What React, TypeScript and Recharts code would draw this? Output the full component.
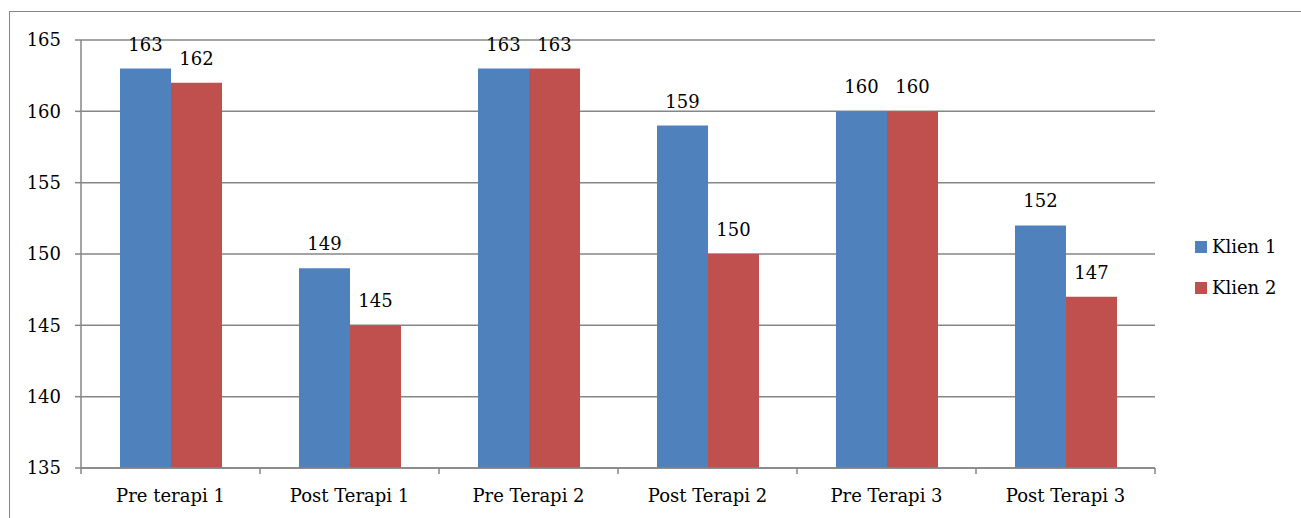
import { Bar, BarChart, CartesianGrid, LabelList, Legend, XAxis, YAxis } from "recharts";

const categories = ["Pre terapi 1", "Post Terapi 1", "Pre Terapi 2", "Post Terapi 2", "Pre Terapi 3", "Post Terapi 3"];
const klien1 = [163, 149, 163, 159, 160, 152];
const klien2 = [162, 145, 163, 150, 160, 147];
const yTicks = [135, 140, 145, 150, 155, 160, 165];

const data = categories.map((name, i) => ({ name, k1: klien1[i], k2: klien2[i] }));

const FONT = "'DejaVu Serif', serif";
const GRID = "#868686";

function CategoryTick(props: any) {
  const { x, y, payload, index, visibleTicksCount, width } = props;
  const half = payload?.offset ?? (width ? width / 12 : 89.5);
  const last = index === (visibleTicksCount ?? categories.length) - 1;
  return (
    <g>
      <line x1={x - half} x2={x - half} y1={y} y2={y + 6} stroke={GRID} strokeWidth={1.5} />
      {last && <line x1={x + half} x2={x + half} y1={y} y2={y + 6} stroke={GRID} strokeWidth={1.5} />}
      <text x={x} y={y + 34} textAnchor="middle" fontFamily={FONT} fontSize={18} fill="#000">
        {payload.value}
      </text>
    </g>
  );
}

function LegendBox({ payload }: any) {
  return (
    <div style={{ fontFamily: FONT, fontSize: 18, color: "#000" }}>
      {(payload || []).map((p: any) => (
        <div key={p.value} style={{ height: 41, display: "flex", alignItems: "center" }}>
          <span style={{ width: 12, height: 12, background: p.color, display: "inline-block" }} />
          <span style={{ marginLeft: 5 }}>{p.value}</span>
        </div>
      ))}
    </div>
  );
}

export default function App() {
  return (
    <div style={{ position: "absolute", left: 0, top: 0, width: 1301, height: 518, overflow: "hidden", background: "#fff" }}>
      <div style={{ position: "absolute", left: 9, top: 11, width: 1400, height: 600, border: `1px solid ${GRID}` }} />
      <div style={{ position: "absolute", left: 0, top: 0 }}>
        <BarChart width={1301} height={518} data={data} margin={{ top: 40, right: 146, left: 0, bottom: 0 }} barGap={0}>
          <CartesianGrid vertical={false} stroke={GRID} strokeWidth={1.5} />
          <XAxis
            dataKey="name"
            height={50}
            tickSize={0}
            tickMargin={0}
            tickLine={false}
            axisLine={{ stroke: GRID, strokeWidth: 1.5 }}
            tick={<CategoryTick />}
            interval={0}
          />
          <YAxis
            width={81}
            domain={[135, 165]}
            ticks={yTicks}
            allowDataOverflow
            tickSize={6}
            tickMargin={14}
            axisLine={{ stroke: GRID, strokeWidth: 1.5 }}
            tickLine={{ stroke: GRID, strokeWidth: 1.5 }}
            tick={{ fontFamily: FONT, fontSize: 18, fill: "#000" }}
          />
          <Legend
            layout="horizontal"
            verticalAlign="middle"
            align="center"
            content={<LegendBox />}
            wrapperStyle={{ left: 1195, top: 226, width: 100 }}
          />
          <Bar dataKey="k1" name="Klien 1" fill="#4F81BD" barSize={51} isAnimationActive={false}>
            <LabelList dataKey="k1" position="top" offset={18} style={{ fontFamily: FONT, fontSize: 18, fill: "#000" }} />
          </Bar>
          <Bar dataKey="k2" name="Klien 2" fill="#C0504D" barSize={51} isAnimationActive={false}>
            <LabelList dataKey="k2" position="top" offset={18} style={{ fontFamily: FONT, fontSize: 18, fill: "#000" }} />
          </Bar>
        </BarChart>
      </div>
    </div>
  );
}
